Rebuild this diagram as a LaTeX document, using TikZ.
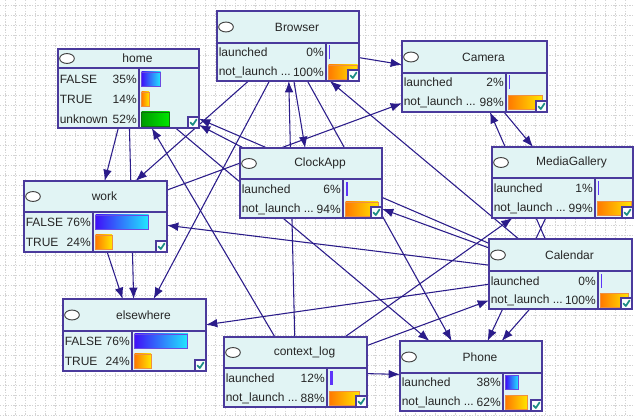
\documentclass[tikz,border=0pt]{standalone}
\usepackage{fontspec}
\setmainfont{Liberation Sans}
\usetikzlibrary{arrows.meta}
\pgfdeclarelayer{gridlayer}
\pgfdeclarelayer{edgelayer}
\pgfsetlayers{gridlayer,edgelayer,main}
\definecolor{bnfill}{HTML}{E1F4F4}
\definecolor{bnborder}{HTML}{4A3A9C}
\definecolor{edgecol}{HTML}{2B1C8A}
\definecolor{barblueA}{HTML}{4010F8}
\definecolor{barblueB}{HTML}{20E8FF}
\definecolor{barblueborder}{HTML}{6A4AE0}
\definecolor{barorA}{HTML}{FF7A00}
\definecolor{barorB}{HTML}{FFE800}
\definecolor{barorborder}{HTML}{F09040}
\definecolor{bargrA}{HTML}{009A00}
\definecolor{bargrB}{HTML}{00E800}
\definecolor{bargrborder}{HTML}{107010}
\definecolor{checkcol}{HTML}{1C8C84}
\definecolor{gridcol}{HTML}{D4D4D4}
\tikzset{
  bnbox/.style={draw=bnborder, fill=bnfill, line width=1.1pt, inner sep=0pt, outer sep=0pt, rectangle},
  bnline/.style={draw=bnborder, line width=0.9pt},
  txt/.style={inner sep=0pt, font=\fontsize{9}{10}\selectfont, text=black!85},
  edge/.style={draw=edgecol, line width=0.8pt, -{Latex[length=8.5pt,width=6.5pt]}},
  bluebar/.style={draw=barblueborder, line width=0.6pt, left color=barblueA, right color=barblueB},
  orbar/.style={draw=barorborder, line width=0.6pt, left color=barorA, right color=barorB},
  grbar/.style={draw=bargrborder, line width=0.6pt, left color=bargrA, right color=bargrB},
  thinbar/.style={fill=barblueA!85!white, draw=none},
  oval/.style={draw=black!75, fill=white, line width=0.7pt},
  chkbox/.style={draw=bnborder, fill=white!85!bnfill, line width=0.8pt},
  chk/.style={draw=checkcol, line width=1.3pt, line cap=round, line join=round},
  gridline/.style={draw=gridcol, line width=0.4pt, dash pattern=on 1pt off 1pt},
}
% name, left, top, width, height, header height, divider x, title
\newcommand{\bnnode}[8]{%
  \node[bnbox, minimum width=#4*0.75pt, minimum height=#5*0.75pt, anchor=north west] (#1) at (#2,#3) {};
  \draw[bnline] (#2,{#3+#6}) -- ({#2+#4},{#3+#6});
  \draw[bnline] (#7,{#3+#6}) -- (#7,{#3+#5});
  \draw[oval] ({#2+9},{#3+#6/2}) ellipse [x radius=5.5pt, y radius=3.7pt];
  \node[txt] at ({(2*#2+18+#4)/2},{#3+#6/2}) {#8};
}
% left, divider, y, label, pct, bar style, bar length
\newcommand{\bnrow}[7]{%
  \node[txt, anchor=west] at ({#1+1.5},#3) {#4};
  \node[txt, anchor=east] at ({#2-2},#3) {#5\%};
  \draw[#6] ({#2+2.5},{#3-7}) rectangle ({#2+2.5+#7},{#3+7});
}
% right, bottom
\newcommand{\bncheck}[2]{%
  \draw[chkbox] ({#1-11},{#2-11}) rectangle (#1,#2);
  \draw[chk] ({#1-8.5},{#2-5.5}) -- ({#1-6.2},{#2-3}) -- ({#1-2.5},{#2-8.5});
}
\begin{document}
\begin{tikzpicture}[x=0.75pt,y=-0.75pt]
\useasboundingbox (0,0) rectangle (635,416);
\begin{pgfonlayer}{gridlayer}
  \fill[white] (0,0) rectangle (635,416);
  \foreach \gx in {5,15,...,635} \draw[gridline] (\gx,0) -- (\gx,416);
  \foreach \gy in {5,15,...,415} \draw[gridline] (0,\gy) -- (635,\gy);
\end{pgfonlayer}

% home
\bnnode{home}{58}{49}{141}{79}{19}{139}{home}
\bnrow{58}{139}{79}{FALSE}{35}{bluebar}{19}
\bnrow{58}{139}{99}{TRUE}{14}{orbar}{7.5}
\bnrow{58}{139}{119}{unknown}{52}{grbar}{28}
\bncheck{199}{128}
% Browser
\bnnode{browser}{217}{11}{142}{70}{32}{326}{Browser}
\bnrow{217}{326}{52.5}{launched}{0}{thinbar}{1.2}
\bnrow{217}{326}{72}{not\_launch ...}{100}{orbar}{29}
\bncheck{359}{81}
% Camera
\bnnode{camera}{402}{41}{145}{71}{32}{506}{Camera}
\bnrow{402}{506}{82.5}{launched}{2}{thinbar}{1.2}
\bnrow{402}{506}{102.5}{not\_launch ...}{98}{orbar}{33.5}
\bncheck{547}{112}
% ClockApp
\bnnode{clock}{240}{148}{142}{70}{31}{343}{ClockApp}
\bnrow{240}{343}{189}{launched}{6}{thinbar}{2.2}
\bnrow{240}{343}{209}{not\_launch ...}{94}{orbar}{32.7}
\bncheck{382}{218}
% MediaGallery
\bnnode{media}{492}{147}{141}{71}{31}{595}{MediaGallery}
\bnrow{492}{595}{188}{launched}{1}{thinbar}{1.2}
\bnrow{492}{595}{208.5}{not\_launch ...}{99}{orbar}{34.3}
\bncheck{633}{218}
% work
\bnnode{work}{24}{181}{143}{71}{31}{93}{work}
\bnrow{24}{93}{222}{FALSE}{76}{bluebar}{53}
\bnrow{24}{93}{242}{TRUE}{24}{orbar}{16.7}
\bncheck{167}{252}
% Calendar
\bnnode{calendar}{489}{239}{143}{70}{32}{598}{Calendar}
\bnrow{489}{598}{281}{launched}{0}{thinbar}{1.2}
\bnrow{489}{598}{300.5}{not\_launch ...}{100}{orbar}{28.3}
\bncheck{632}{309}
% elsewhere
\bnnode{elsewhere}{63}{299}{143}{72}{32}{132}{elsewhere}
\bnrow{63}{132}{341}{FALSE}{76}{bluebar}{53.3}
\bnrow{63}{132}{361}{TRUE}{24}{orbar}{16.7}
\bncheck{206}{371}
% context_log
\bnnode{ctx}{224}{337}{143}{70}{31}{327}{context\_log}
\bnrow{224}{327}{378}{launched}{12}{thinbar}{3}
\bnrow{224}{327}{398}{not\_launch ...}{88}{orbar}{30.3}
\bncheck{367}{407}
% Phone
\bnnode{phone}{400}{341}{142}{70}{32}{503}{Phone}
\bnrow{400}{503}{382.5}{launched}{38}{bluebar}{12.7}
\bnrow{400}{503}{402.5}{not\_launch ...}{62}{orbar}{22}
\bncheck{542}{411}

\begin{pgfonlayer}{edgelayer}
  \draw[edge] (browser) -- (camera);
  \draw[edge] (browser) -- (clock);
  \draw[edge] (browser) -- (phone);
  \draw[edge] (browser) -- (work);
  \draw[edge] (browser) -- (elsewhere);
  \draw[edge] (ctx) -- (browser);
  \draw[edge] (ctx) -- (home);
  \draw[edge] (ctx) -- (phone);
  \draw[edge] (ctx) -- (calendar);
  \draw[edge] (ctx) -- (media);
  \draw[edge] (home) -- (work);
  \draw[edge] (home) -- (elsewhere);
  \draw[edge] (home) -- (phone);
  \draw[edge] (work) -- (elsewhere);
  \draw[edge] (work) -- (camera);
  \draw[edge] (clock) -- (home);
  \draw[edge] (calendar) -- (home);
  \draw[edge] (calendar) -- (work);
  \draw[edge] (calendar) -- (elsewhere);
  \draw[edge] (calendar) -- (clock);
  \draw[edge] (calendar) -- (browser);
  \draw[edge] (calendar) -- (camera);
  \draw[edge] (calendar) -- (phone);
  \draw[edge] (camera) -- (media);
  \draw[edge] (media) -- (phone);
\end{pgfonlayer}
\end{tikzpicture}
\end{document}
